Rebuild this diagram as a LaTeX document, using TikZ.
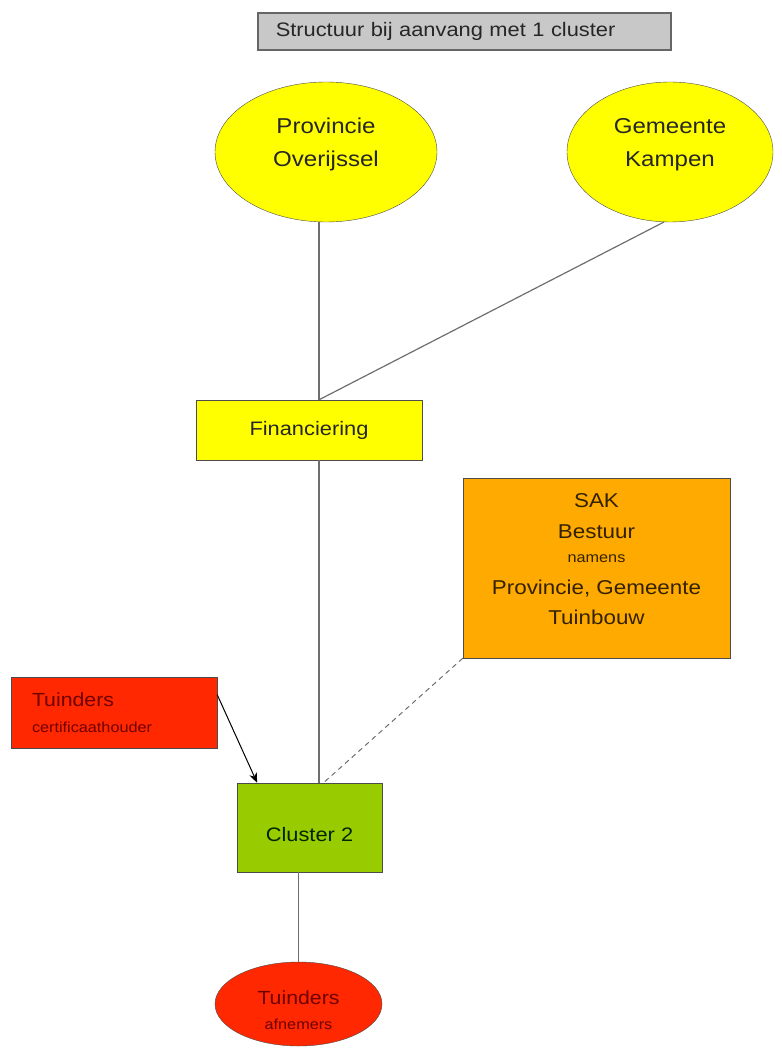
\documentclass[tikz,border=0pt]{standalone}
\usepackage{fontspec}
\setmainfont[FakeStretch=1.12]{Liberation Sans}
\usetikzlibrary{shapes.geometric, arrows.meta, calc}
\definecolor{fundyellow}{RGB}{255,255,0}
\definecolor{sakorange}{RGB}{255,170,0}
\definecolor{clustergreen}{RGB}{153,204,0}
\definecolor{tuinred}{RGB}{255,40,0}
\definecolor{tuintext}{RGB}{110,0,0}
\definecolor{titlegray}{RGB}{200,200,200}
\definecolor{linegray}{RGB}{110,110,110}
\newcommand{\labelsize}{\fontsize{19.5}{23.4}\selectfont}
\newcommand{\ovalsize}{\fontsize{21.5}{26}\selectfont}
\newcommand{\saksize}{\fontsize{20}{24}\selectfont}
\newcommand{\tuinsize}{\fontsize{19}{22}\selectfont}
\newcommand{\notesize}{\fontsize{14.5}{17}\selectfont}

\begin{document}
\begin{tikzpicture}[
    x=1pt, y=-1pt,
    every node/.style={font=\labelsize, text=black!85},
    oval/.style={ellipse, draw=black!70, fill=fundyellow, align=center, inner sep=0pt, font=\ovalsize},
    block/.style={rectangle, draw=black!70, align=center, inner sep=0pt},
    link/.style={draw=linegray, line width=1.2pt},
    arrow/.style={-{Stealth[length=10pt, width=8pt]}, line width=1pt, black}
]
\useasboundingbox (0,0) rectangle (781,1048);
\clip (0,0) rectangle (781,1048);
\coordinate (spine) at (319,0);
% kop
\node[block, draw=black!60, fill=titlegray, line width=1.5pt, minimum width=413pt, minimum height=37pt, text width=377pt, align=left, anchor=west] (title) at (257,31.5) {Structuur bij aanvang met 1 cluster};
% geldgevers
\node[oval, minimum width=222pt, minimum height=140pt] (prov) at (326,152) {Provincie\\[7pt]Overijssel\\[-6pt]\mbox{}};
\node[oval, minimum width=206pt, minimum height=140pt] (gem) at (670,152) {Gemeente\\[7pt]Kampen\\[-6pt]\mbox{}};
\node[block, fill=fundyellow, minimum width=226pt, minimum height=60pt] (fin) at (309,430) {Financiering};
% bestuur
\node[block, fill=sakorange, text=black!80!sakorange, font=\saksize, minimum width=267pt, minimum height=180pt] (sak) at (596.5,568) {SAK\\[7pt]Bestuur\\[0pt]{\notesize namens}\\[8pt]Provincie, Gemeente\\[6pt]Tuinbouw\\[-7pt]\mbox{}};
\node[block, fill=tuinred, text=tuintext, minimum width=206pt, minimum height=71pt, text width=164pt, align=left] (tcert) at (114,712.5) {{\tuinsize Tuinders}\\[3pt]{\notesize certificaathouder}};
\node[block, fill=clustergreen, text=black!75!green!60!black, minimum width=145pt, minimum height=89pt, text height=28pt, text depth=0pt] (clus) at (309.5,827.5) {Cluster 2};
\node[oval, fill=tuinred, text=tuintext, font=\tuinsize, minimum width=167pt, minimum height=84pt] (tafn) at (298.5,1004) {\mbox{}\\[5pt]Tuinders\\[3pt]{\notesize afnemers}};
% verbindingen
\draw[link] (prov.south -| spine) -- (fin.north -| spine);
\draw[link] (gem.-95) -- (fin.north -| spine);
\draw[link] (fin.south -| spine) -- (clus.north -| spine);
\draw[link, line width=1pt, dash pattern=on 5pt off 4pt] (sak.south west) -- ($(clus.north)+(14,0)$);
\draw[arrow] ($(tcert.north east)!0.25!(tcert.south east)$) -- ($(clus.north west)!0.14!(clus.north east)$);
\draw[link] (clus.south -| tafn.north) -- (tafn.north);
\end{tikzpicture}
\end{document}
